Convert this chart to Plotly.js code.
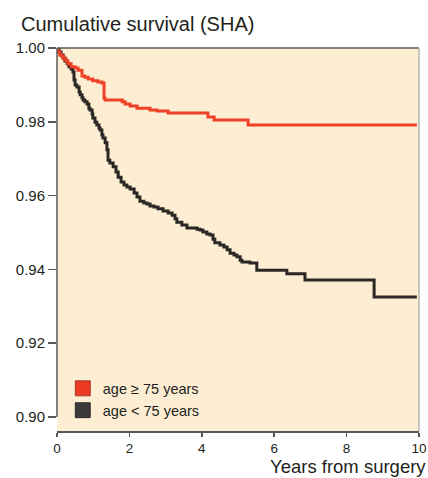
<!DOCTYPE html>
<html>
<head>
<meta charset="utf-8">
<script src="https://cdn.plot.ly/plotly-3.0.1.min.js"></script>
<style>html,body{margin:0;padding:0;background:#fff}#chart{width:428px;height:478px}</style>
</head>
<body>
<div id="chart"></div>
<script>
// Kaplan-Meier step data
var oldYears = [0, 0.03, 0.08, 0.14, 0.19, 0.25, 0.30, 0.39, 0.50, 0.58, 0.69, 0.77, 0.86, 0.99, 1.13, 1.24, 1.30, 1.33, 1.80, 1.88, 2.02, 2.21, 2.57, 2.76, 3.07, 4.17, 4.34, 5.28, 9.94];
var oldSurv  = [1.0, 0.9989, 0.9981, 0.9976, 0.9970, 0.9965, 0.9957, 0.9949, 0.9946, 0.9940, 0.9924, 0.9921, 0.9916, 0.9911, 0.9908, 0.9905, 0.9864, 0.9859, 0.9854, 0.9848, 0.9843, 0.9837, 0.9832, 0.9829, 0.9824, 0.9813, 0.9805, 0.9791, 0.9791];

var youngYears = [0, 0.06, 0.11, 0.17, 0.22, 0.28, 0.33, 0.39, 0.44, 0.47, 0.50, 0.55, 0.61, 0.64, 0.69, 0.72, 0.77, 0.83, 0.88, 0.91, 0.97, 0.99, 1.05, 1.10, 1.16, 1.19, 1.24, 1.27, 1.33, 1.38, 1.41, 1.46, 1.55, 1.63, 1.69, 1.77, 1.85, 1.93, 2.02, 2.13, 2.21, 2.29, 2.40, 2.49, 2.57, 2.68, 2.79, 2.93, 3.07, 3.18, 3.26, 3.31, 3.45, 3.59, 3.87, 3.95, 4.03, 4.14, 4.23, 4.31, 4.36, 4.50, 4.61, 4.70, 4.78, 4.89, 4.97, 5.06, 5.11, 5.33, 5.52, 6.35, 6.85, 8.76, 9.94];
var youngSurv  = [1.0, 0.9989, 0.9981, 0.9973, 0.9965, 0.9957, 0.9949, 0.9943, 0.9935, 0.9913, 0.9900, 0.9894, 0.9881, 0.9873, 0.9865, 0.9859, 0.9854, 0.9848, 0.9837, 0.9832, 0.9821, 0.9810, 0.9799, 0.9791, 0.9783, 0.9778, 0.9764, 0.9756, 0.9743, 0.9724, 0.9696, 0.9688, 0.9678, 0.9664, 0.9650, 0.9637, 0.9629, 0.9623, 0.9618, 0.9607, 0.9596, 0.9585, 0.9580, 0.9577, 0.9572, 0.9569, 0.9564, 0.9558, 0.9553, 0.9547, 0.9537, 0.9528, 0.9520, 0.9512, 0.9509, 0.9507, 0.9501, 0.9496, 0.9493, 0.9482, 0.9472, 0.9466, 0.9461, 0.9453, 0.9444, 0.9439, 0.9434, 0.9425, 0.9420, 0.9417, 0.9398, 0.9388, 0.9371, 0.9325, 0.9325];

var seriesNames = ["age \u2265 75 years", "age < 75 years"];
var seriesColors = ["#ee4126", "#2b2724"];
var legendColors = ["#ee3a24", "#3b3b3c"];
var xTicks = [0, 2, 4, 6, 8, 10];
var yTicks = [0.90, 0.92, 0.94, 0.96, 0.98, 1.00];
var yTickText = ["0.90", "0.92", "0.94", "0.96", "0.98", "1.00"];

var FONT = "Liberation Sans, Arial, Helvetica, sans-serif";
var TXT = "#231f20";
var AX = "#58585a";

var traces = [
  {x: youngYears, y: youngSurv, mode: "lines", line: {shape: "hv", color: seriesColors[1], width: 3}, showlegend: false, hoverinfo: "skip"},
  {x: oldYears, y: oldSurv, mode: "lines", line: {shape: "hv", color: seriesColors[0], width: 3}, showlegend: false, hoverinfo: "skip"},
  {x: [null], y: [null], mode: "markers", name: seriesNames[0], marker: {symbol: "square", size: 15, color: legendColors[0], line: {color: "#8a2a1a", width: 0.8}}},
  {x: [null], y: [null], mode: "markers", name: seriesNames[1], marker: {symbol: "square", size: 15, color: legendColors[1], line: {color: "#1a1a1a", width: 0.8}}}
];

var layout = {
  width: 428, height: 478,
  margin: {l: 57, r: 9, t: 48, b: 47},
  paper_bgcolor: "#ffffff",
  plot_bgcolor: "#fdeed3",
  font: {family: FONT, color: TXT, size: 15},
  showlegend: true,
  legend: {x: 0.016, xanchor: "left", y: 0.012, yanchor: "bottom", bgcolor: "rgba(0,0,0,0)", font: {size: 14.5, color: TXT}, tracegroupgap: 0, itemwidth: 30},
  xaxis: {
    range: [0, 10], tickvals: xTicks, ticks: "outside", ticklen: 4, tickwidth: 1.5, tickcolor: AX,
    showline: true, linecolor: AX, linewidth: 1.5, showgrid: false, zeroline: false,
    tickfont: {size: 13.5, color: TXT}, fixedrange: true
  },
  yaxis: {
    range: [0.8962, 1.0], tickvals: yTicks, ticktext: yTickText, ticks: "outside", ticklen: 8, tickwidth: 1.5, tickcolor: AX,
    showline: false, showgrid: false, zeroline: false,
    tickfont: {size: 15, color: TXT}, fixedrange: true
  },
  shapes: [
    {type: "line", xref: "paper", yref: "y", x0: 0, x1: 0, y0: 0.90, y1: 1.0, line: {color: AX, width: 1.5}},
    {type: "line", xref: "paper", yref: "paper", x0: 0, x1: 1, y0: 1, y1: 1, line: {color: AX, width: 1.5}},
    {type: "line", xref: "paper", yref: "paper", x0: 1, x1: 1, y0: 0, y1: 1, line: {color: "#b5b5b5", width: 1.5}}
  ],
  annotations: [
    {text: "Cumulative survival (SHA)", xref: "paper", yref: "paper", x: -0.105, xanchor: "left", y: 1.0, yanchor: "bottom", yshift: 11, showarrow: false, font: {size: 20, color: TXT}},
    {text: "Years from surgery", xref: "paper", yref: "paper", x: 1.022, xanchor: "right", y: -0.1227, yanchor: "bottom", yshift: 0, borderpad: 0, showarrow: false, font: {size: 18.5, color: TXT}}
  ]
};

Plotly.newPlot("chart", traces, layout, {displayModeBar: false, staticPlot: true});
</script>
</body>
</html>
